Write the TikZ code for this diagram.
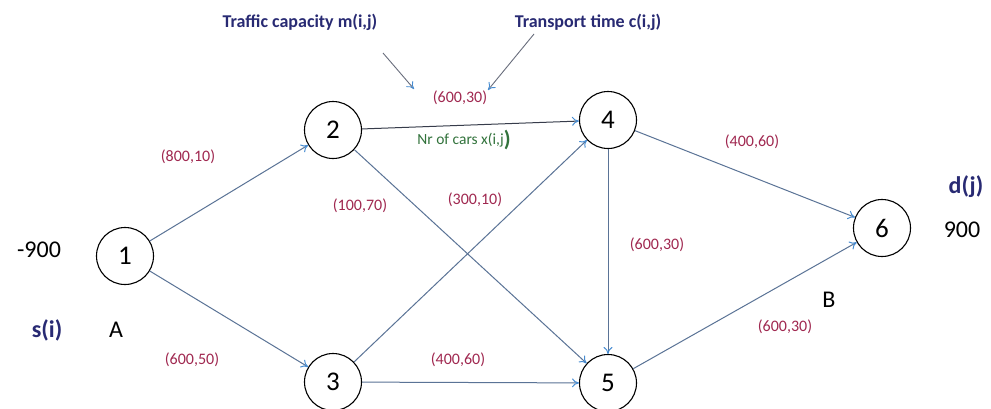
\documentclass[tikz,border=0pt]{standalone}
\usepackage{fontspec}
\setmainfont{Carlito}
\usetikzlibrary{arrows.meta}
\definecolor{edgecol}{RGB}{90,115,150}
\definecolor{darkedge}{RGB}{55,60,75}
\definecolor{tipcol}{RGB}{70,140,210}
\definecolor{labred}{RGB}{160,40,80}
\definecolor{navy}{RGB}{40,42,115}
\definecolor{greentxt}{RGB}{50,115,60}
\definecolor{annot}{RGB}{105,110,125}
\tikzset{
  vertex/.style={circle,draw=black,line width=1.1pt,minimum size=57pt,inner sep=0pt,
    font=\fontsize{27}{27}\selectfont},
  edge/.style={draw=edgecol,line width=1pt,-{To[length=7pt,width=9pt,color=tipcol]}},
  annotarrow/.style={draw=annot,line width=0.9pt,-{To[length=7pt,width=9pt,color=tipcol]}},
  wlabel/.style={text=labred,font=\fontsize{16}{16}\selectfont,inner sep=1pt},
  toptext/.style={text=navy,font=\bfseries\fontsize{18}{18}\selectfont,inner sep=1pt},
  side/.style={font=\fontsize{24}{24}\selectfont,inner sep=1pt},
  sideblue/.style={text=navy,font=\bfseries\fontsize{24}{24}\selectfont,inner sep=1pt}
}
\begin{document}
\begin{tikzpicture}[x=1pt,y=-1pt]
\path[use as bounding box,fill=white] (0,0) rectangle (991,408);
% nodes
\node[vertex] (n1) at (125,256) {1};
\node[vertex] (n2) at (333,130) {2};
\node[vertex] (n3) at (333,382) {3};
\node[vertex] (n4) at (608,120) {4};
\node[vertex] (n5) at (608,383) {5};
\node[vertex] (n6) at (882,228) {6};
% edges
\draw[edge] (n1) -- (n2);
\draw[edge] (n1) -- (n3);
\draw[edge,draw=darkedge] (n2) -- (n4);
\draw[edge] (n2) -- (n5);
\draw[edge] (n3) -- (n4);
\draw[edge] (n3) -- (n5);
\draw[edge] (n4) -- (n5);
\draw[edge] (n4) -- (n6);
\draw[edge] (n5) -- (n6);
% edge labels
\node[wlabel] (l12) at (188,157) {(800,10)};
\node[wlabel] (l13) at (192,360) {(600,50)};
\node[wlabel] (l24) at (460,98) {(600,30)};
\node[wlabel] (l25) at (360,206) {(100,70)};
\node[wlabel] (l34) at (475,200) {(300,10)};
\node[wlabel] (l35) at (458,360) {(400,60)};
\node[wlabel] (l45) at (657,245) {(600,30)};
\node[wlabel] (l46) at (752,142) {(400,60)};
\node[wlabel] (l56) at (785,327) {(600,30)};
% annotations
\node[toptext] (cap) at (300,22) {Traffic capacity m(i,j)};
\node[toptext] (tim) at (588,22) {Transport time c(i,j)};
\coordinate (capstart) at (383,53);
\coordinate (capend) at (414,89);
\coordinate (timstart) at (534,34);
\coordinate (timend) at (488,90);
\draw[annotarrow] (capstart) -- (capend);
\draw[annotarrow] (timstart) -- (timend);
\node[text=greentxt,font=\fontsize{15.5}{15.5}\selectfont,inner sep=1pt] (cars) at (464,140)
  {Nr of cars x(i,j\raisebox{-2pt}{\fontsize{22}{22}\selectfont\bfseries )}};
% side texts
\node[side] (m900) at (39,250) {-900};
\node[sideblue] (si) at (47,330) {s(i)};
\node[side] (A) at (116,330) {A};
\node[sideblue] (dj) at (966,187) {d(j)};
\node[side] (p900) at (962,230) {900};
\node[side] (B) at (829,300) {B};
\end{tikzpicture}
\end{document}
